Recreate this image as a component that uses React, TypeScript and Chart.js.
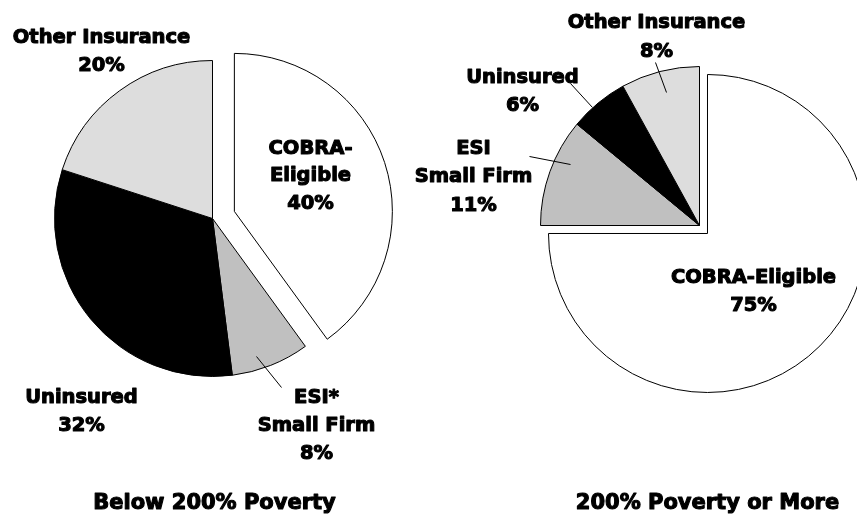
import { useEffect, useRef } from "react";
import { Chart, registerables } from "chart.js";

Chart.register(...registerables);

// ---------- data ----------
const categories = ["COBRA-Eligible", "ESI Small Firm", "Uninsured", "Other Insurance"];
const belowValues = [40, 8, 32, 20];
const aboveValues = [75, 11, 6, 8];
const belowNames = [["COBRA-", "Eligible"], ["ESI*", "Small Firm"], ["Uninsured"], ["Other Insurance"]];
const aboveNames = [["COBRA-Eligible"], ["ESI", "Small Firm"], ["Uninsured"], ["Other Insurance"]];
const titles = ["Below 200% Poverty", "200% Poverty or More"];

// ---------- styles ----------
const sliceColors = ["#ffffff", "#c0c0c0", "#000000", "#dddddd"];
const FONT = "'DejaVu Sans', 'Liberation Sans', sans-serif";

type LabelPos = { dx: number; dy: number; lh: number; leader?: number[] };

// label placements relative to each pie's centre (px)
const belowLabelPos: LabelPos[] = [
  { dx: 98, dy: -65, lh: 27.5 },
  { dx: 104, dy: 184, lh: 28, leader: [44, 138, 69, 169] },
  { dx: -131, dy: 184, lh: 28 },
  { dx: -111, dy: -176, lh: 28 },
];
const aboveLabelPos: LabelPos[] = [
  { dx: 54, dy: 57, lh: 28 },
  { dx: -226, dy: -72, lh: 28.5, leader: [-170, -69, -129, -61] },
  { dx: -177, dy: -143, lh: 28, leader: [-129, -142, -107, -118] },
  { dx: -43, dy: -198, lh: 29, leader: [-44, -163, -33, -133] },
];

type PieCfg = {
  values: number[];
  names: string[][];
  pos: LabelPos[];
  title: string;
  titleDx: number;
  titleDy: number;
  explodeIndex: number;
  explodeDist: number;
  radius: number;
  padding: { left: number; right: number; top: number; bottom: number };
};

const pies: PieCfg[] = [
  {
    values: belowValues,
    names: belowNames,
    pos: belowLabelPos,
    title: titles[0],
    titleDx: 2,
    titleDy: 290.5,
    explodeIndex: 0,
    explodeDist: 23,
    radius: 158,
    padding: { left: 0, right: 432, top: 0, bottom: 81 },
  },
  {
    values: aboveValues,
    names: aboveNames,
    pos: aboveLabelPos,
    title: titles[1],
    titleDx: 8,
    titleDy: 283.5,
    explodeIndex: 0,
    explodeDist: 11.3,
    radius: 159,
    padding: { left: 542, right: 0, top: 0, bottom: 67 },
  },
];

function heavyText(ctx: CanvasRenderingContext2D, t: string, x: number, y: number) {
  ctx.fillText(t, x, y);
  ctx.strokeText(t, x, y);
}

function makePlugin(cfg: PieCfg) {
  return {
    id: "pieDecor",
    afterDatasetUpdate(chart: any, args: any) {
      const meta = args.meta || chart.getDatasetMeta(args.index);
      const arc = meta.data[cfg.explodeIndex];
      if (!arc) return;
      const mid = (arc.startAngle + arc.endAngle) / 2;
      arc.x += Math.cos(mid) * cfg.explodeDist;
      arc.y += Math.sin(mid) * cfg.explodeDist;
    },
    afterDraw(chart: any) {
      const ctx = chart.ctx as CanvasRenderingContext2D;
      const ca = chart.chartArea;
      const cx = (ca.left + ca.right) / 2;
      const cy = (ca.top + ca.bottom) / 2;
      ctx.save();
      ctx.fillStyle = "#000";
      ctx.strokeStyle = "#000";
      ctx.lineWidth = 1;
      cfg.values.forEach((v, i) => {
        const p = cfg.pos[i];
        if (p.leader) {
          ctx.beginPath();
          ctx.moveTo(cx + p.leader[0], cy + p.leader[1]);
          ctx.lineTo(cx + p.leader[2], cy + p.leader[3]);
          ctx.stroke();
        }
      });
      ctx.textAlign = "center";
      ctx.textBaseline = "alphabetic";
      ctx.lineJoin = "round";
      ctx.lineWidth = 1.1;
      ctx.font = `bold 19.5px ${FONT}`;
      cfg.values.forEach((v, i) => {
        const p = cfg.pos[i];
        const lines = [...cfg.names[i], `${v}%`];
        lines.forEach((t, k) => {
          heavyText(ctx, t, cx + p.dx, cy + p.dy + k * p.lh);
        });
      });
      ctx.font = `bold 21px ${FONT}`;
      heavyText(ctx, cfg.title, cx + cfg.titleDx, cy + cfg.titleDy);
      ctx.restore();
    },
  };
}

function PieCanvas({ cfg }: { cfg: PieCfg }) {
  const ref = useRef<HTMLCanvasElement | null>(null);
  useEffect(() => {
    if (!ref.current) return;
    const chart = new Chart(ref.current, {
      type: "pie",
      data: {
        labels: categories,
        datasets: [
          {
            data: cfg.values,
            backgroundColor: sliceColors,
            borderColor: "#000000",
            borderWidth: 1,
            borderJoinStyle: "miter",
            radius: cfg.radius,
            clip: false,
          } as any,
        ],
      },
      options: {
        animation: false,
        responsive: false,
        events: [],
        layout: { padding: cfg.padding },
        plugins: {
          legend: { display: false },
          tooltip: { enabled: false },
        },
      },
      plugins: [makePlugin(cfg)],
    });
    return () => chart.destroy();
  }, [cfg]);
  return (
    <canvas
      ref={ref}
      width={857}
      height={518}
      style={{ position: "absolute", left: 0, top: 0, width: 857, height: 518 }}
    />
  );
}

export default function App() {
  return (
    <div
      style={{
        position: "absolute",
        left: 0,
        top: 0,
        width: 857,
        height: 518,
        overflow: "hidden",
        background: "#ffffff",
      }}
    >
      {pies.map((p, i) => (
        <PieCanvas key={i} cfg={p} />
      ))}
    </div>
  );
}
